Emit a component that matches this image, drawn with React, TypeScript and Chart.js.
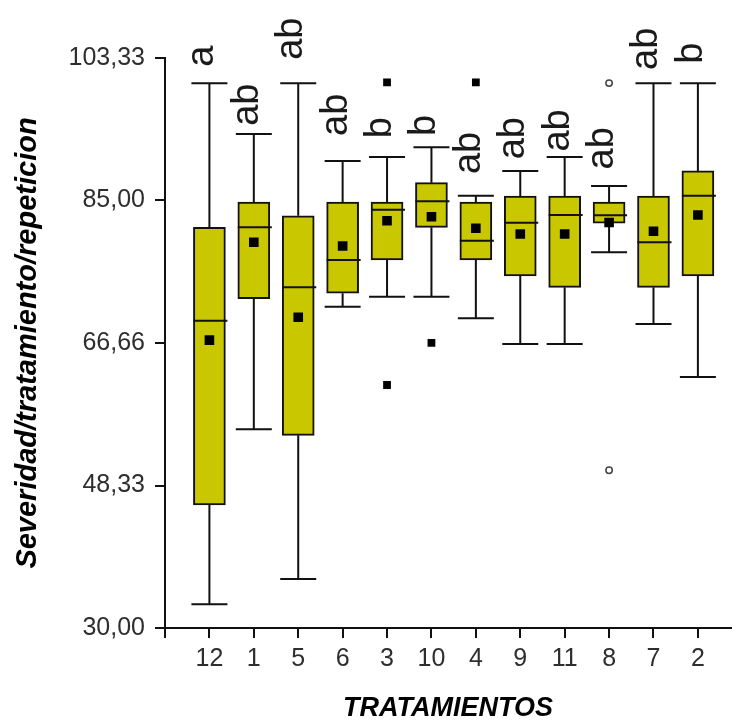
import React, { useEffect, useRef } from 'react';
import { Chart, registerables } from 'chart.js';

Chart.register(...registerables);

// ---- data ----
const categories = ['12', '1', '5', '6', '3', '10', '4', '9', '11', '8', '7', '2'];
const whiskerLow = [33.05, 55.56, 36.3, 71.34, 72.62, 72.62, 69.84, 66.54, 66.54, 78.33, 69.11, 62.29];
const q1 = [45.82, 72.36, 54.79, 73.06, 77.34, 81.55, 77.34, 75.29, 73.83, 82.07, 73.83, 75.29];
const medians = [69.53, 81.55, 73.83, 77.34, 83.8, 84.9, 79.83, 82.14, 83.13, 83.09, 79.62, 85.62];
const q3 = [81.55, 84.8, 83.04, 84.8, 84.8, 87.29, 84.8, 85.58, 85.58, 84.8, 85.58, 88.8];
const whiskerHigh = [100.08, 93.55, 100.08, 90.08, 90.6, 91.84, 85.62, 88.8, 90.6, 86.86, 100.08, 100.08];
const means = [67.03, 79.62, 69.97, 79.14, 82.4, 82.9, 81.42, 80.69, 80.69, 82.17, 81.04, 83.13];

const farOutlierCats = ['3', '3', '10', '4'];
const farOutlierValues = [100.2, 61.26, 66.67, 100.2];
const nearOutlierCats = ['8', '8'];
const nearOutlierValues = [100.1, 50.29];

const groupLetters = ['a', 'ab', 'ab', 'ab', 'b', 'b', 'ab', 'ab', 'ab', 'ab', 'ab', 'b'];
const letterAnchor = [102.2, 94.6, 103.1, 93.3, 93.0, 93.3, 88.4, 90.3, 91.3, 89.0, 101.8, 102.6];

const yTickValues = [30, 48.33, 66.66, 85, 103.33];
const yTickLabels = ['30,00', '48,33', '66,66', '85,00', '103,33'];

const xTitle = 'TRATAMIENTOS';
const yTitle = 'Severidad/tratamiento/repeticion';

// ---- styles ----
const BOX_FILL = '#c9c700';
const INK = '#111111';
const TICK_FONT = "'Liberation Sans', Arial, Helvetica, sans-serif";
const MAIN_FONT = "'Liberation Sans', Arial, Helvetica, sans-serif";

const catPos = (c: string) => categories.indexOf(c) + 1;

const boxExtras = {
  id: 'boxExtras',
  beforeDatasetsDraw(chart: any) {
    const { ctx, scales } = chart;
    const x = scales.x;
    const y = scales.y;
    ctx.save();
    ctx.strokeStyle = INK;
    ctx.lineWidth = 2;
    const capHalf = 18;
    categories.forEach((_c, i) => {
      const px = x.getPixelForValue(i + 1);
      const yHi = y.getPixelForValue(whiskerHigh[i]);
      const yQ3 = y.getPixelForValue(q3[i]);
      const yQ1 = y.getPixelForValue(q1[i]);
      const yLo = y.getPixelForValue(whiskerLow[i]);
      ctx.beginPath();
      ctx.moveTo(px, yQ3);
      ctx.lineTo(px, yHi);
      ctx.moveTo(px - capHalf, yHi);
      ctx.lineTo(px + capHalf, yHi);
      ctx.moveTo(px, yQ1);
      ctx.lineTo(px, yLo);
      ctx.moveTo(px - capHalf, yLo);
      ctx.lineTo(px + capHalf, yLo);
      ctx.stroke();
    });
    ctx.restore();
  },
  afterDatasetDraw(chart: any, args: any) {
    const ds = chart.data.datasets[args.index];
    if (ds.type !== 'bar') return;
    const { ctx, scales } = chart;
    const x = scales.x;
    const y = scales.y;
    ctx.save();
    ctx.strokeStyle = INK;
    ctx.lineWidth = 2;
    categories.forEach((_c, i) => {
      const px = x.getPixelForValue(i + 1);
      const py = y.getPixelForValue(medians[i]);
      ctx.beginPath();
      ctx.moveTo(px - 16, py);
      ctx.lineTo(px + 18, py);
      ctx.stroke();
    });
    ctx.restore();
  },
  afterDraw(chart: any) {
    const { ctx, scales } = chart;
    const x = scales.x;
    const y = scales.y;
    ctx.save();
    ctx.font = `38px ${MAIN_FONT}`;
    ctx.fillStyle = '#1a1a1a';
    ctx.textAlign = 'left';
    ctx.textBaseline = 'alphabetic';
    categories.forEach((_c, i) => {
      const px = x.getPixelForValue(i + 1) + 4;
      const py = y.getPixelForValue(letterAnchor[i]);
      ctx.save();
      ctx.translate(px, py);
      ctx.rotate(-Math.PI / 2);
      ctx.fillText(groupLetters[i], 0, 0);
      ctx.restore();
    });
    ctx.restore();
  },
};

export default function App() {
  const canvasRef = useRef<HTMLCanvasElement | null>(null);

  useEffect(() => {
    document.body.style.margin = '0';
    document.body.style.background = '#ffffff';
    const canvas = canvasRef.current;
    if (!canvas) return;

    const chart = new Chart(canvas, {
      type: 'bar',
      data: {
        datasets: [
          {
            type: 'scatter',
            label: 'Media',
            data: means.map((v, i) => ({ x: i + 1, y: v })),
            pointStyle: 'rect',
            pointRadius: 6.8,
            backgroundColor: '#000',
            borderColor: '#000',
            borderWidth: 0,
            order: 1,
          } as any,
          {
            type: 'scatter',
            label: 'Extremos',
            data: farOutlierCats.map((c, i) => ({ x: catPos(c), y: farOutlierValues[i] })),
            pointStyle: 'rect',
            pointRadius: 5.5,
            backgroundColor: '#000',
            borderColor: '#000',
            borderWidth: 0,
            order: 1,
          } as any,
          {
            type: 'scatter',
            label: 'Atipicos',
            data: nearOutlierCats.map((c, i) => ({ x: catPos(c), y: nearOutlierValues[i] })),
            pointStyle: 'circle',
            pointRadius: 3.2,
            backgroundColor: '#fff',
            borderColor: '#444',
            borderWidth: 1.5,
            order: 1,
          } as any,
          {
            type: 'bar',
            label: 'Caja',
            data: q1.map((v, i) => ({ x: i + 1, y: [v, q3[i]] })),
            barThickness: 32,
            backgroundColor: BOX_FILL,
            borderColor: INK,
            borderWidth: 2,
            borderSkipped: false,
            order: 2,
          } as any,
        ],
      },
      options: {
        animation: false,
        responsive: false,
        maintainAspectRatio: false,
        layout: { padding: { top: 58, right: 2, left: 0, bottom: 0 } },
        plugins: {
          legend: { display: false },
          tooltip: { enabled: false },
          title: { display: false },
        },
        scales: {
          x: {
            type: 'linear',
            min: 0,
            max: 12.75,
            offset: false,
            afterBuildTicks: (s: any) => {
              s.ticks = [0, ...categories.map((_c, i) => i + 1)].map((v) => ({ value: v }));
            },
            afterFit: (s: any) => {
              s.height = 97;
              s.paddingLeft = 0;
              s.paddingRight = 0;
            },
            ticks: {
              autoSkip: false,
              maxRotation: 0,
              minRotation: 0,
              padding: 9,
              color: '#2e2e2e',
              font: { family: TICK_FONT, size: 25, lineHeight: 1 },
              callback: (v: any) => (v === 0 ? '' : categories[v - 1]),
            },
            grid: {
              offset: false,
              drawOnChartArea: false,
              drawTicks: true,
              tickLength: 10,
              color: INK,
              lineWidth: 2,
            },
            border: { display: true, color: INK, width: 2 },
            title: {
              display: true,
              text: xTitle,
              color: '#000',
              font: { family: MAIN_FONT, size: 27, weight: 'bold', style: 'italic' },
              padding: { top: 0, bottom: 0 },
            },
          } as any,
          y: {
            type: 'linear',
            min: 30,
            max: 103.33,
            beginAtZero: false,
            afterBuildTicks: (s: any) => {
              s.ticks = yTickValues.map((v) => ({ value: v }));
            },
            afterFit: (s: any) => {
              s.width = 165;
              s.paddingTop = 0;
              s.paddingBottom = 0;
            },
            ticks: {
              padding: 10,
              color: '#2e2e2e',
              font: { family: TICK_FONT, size: 25, lineHeight: 1 },
              callback: (_v: any, i: number) => yTickLabels[i],
            },
            grid: {
              drawOnChartArea: false,
              drawTicks: true,
              tickLength: 10,
              color: INK,
              lineWidth: 2,
            },
            border: { display: true, color: INK, width: 2 },
            title: {
              display: true,
              text: yTitle,
              color: '#000',
              font: { family: MAIN_FONT, size: 29, weight: 'bold', style: 'italic' },
              padding: { top: 11, bottom: 0 },
            },
          } as any,
        },
      },
      plugins: [boxExtras],
    } as any);

    return () => {
      chart.destroy();
    };
  }, []);

  return (
    <div style={{ width: 738, height: 725 }}>
      <canvas ref={canvasRef} width={738} height={725} style={{ display: 'block', width: 738, height: 725 }} />
    </div>
  );
}
